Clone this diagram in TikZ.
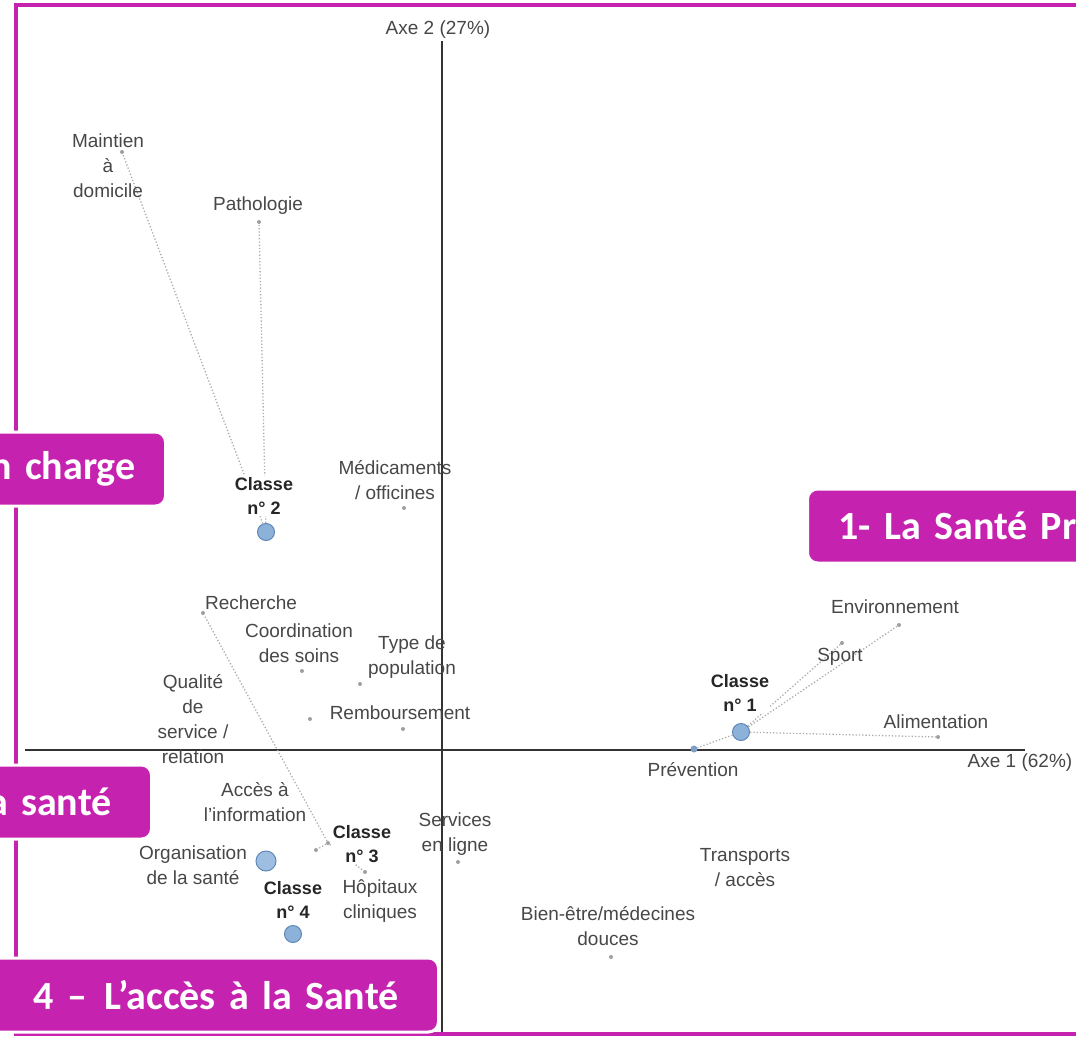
\documentclass[tikz,border=0pt]{standalone}
\usepackage{fontspec}
\setmainfont{Liberation Sans}
\newfontfamily\bannerfont{Carlito}[WordSpace=0.75]
\definecolor{cadre}{RGB}{198,34,176}
\definecolor{bleuclasse}{RGB}{140,178,218}
\definecolor{bordclasse}{RGB}{95,135,185}
\begin{document}
\begin{tikzpicture}[x=1pt,y=-1pt,
  lbl/.style={align=center,inner sep=1pt,text=black!72,font=\fontsize{19}{25}\selectfont},
  cls/.style={lbl,text=black!85,fill=white,font=\bfseries\fontsize{18}{24}\selectfont},
  pt/.style={circle,fill=gray!75,inner sep=0pt,minimum size=4pt},
  classe/.style={circle,draw=bordclasse,fill=bleuclasse,line width=1pt,inner sep=0pt,minimum size=17pt},
  lien/.style={draw,gray!65,dotted,line width=1.3pt},
  axe/.style={draw,black!80,line width=1.6pt},
  banner/.style={fill=cadre,draw=white,line width=3pt,rounded corners=10pt,text=white,
    font=\bannerfont\bfseries\fontsize{40}{42}\selectfont,minimum height=74pt,inner ysep=0pt}]
\useasboundingbox (0,0) rectangle (1076,1036);
\clip (0,0) rectangle (1076,1036);
\coordinate (yhaut) at (442,41);
\coordinate (ybas) at (442,1034);
\coordinate (xgauche) at (25,750);
\coordinate (xdroite) at (1025,750);
\path[axe] (yhaut) -- (ybas);
\path[axe] (xgauche) -- (xdroite);
\node[pt] (maintienp) at (122,152) {};
\node[pt] (pathop) at (259,222) {};
\node[pt] (medicp) at (404,508) {};
\node[pt] (recherchep) at (203,613) {};
\node[pt] (coordp) at (302,671) {};
\node[pt] (typep) at (360,684) {};
\node[pt] (qualitep) at (310,719) {};
\node[pt] (rembp) at (403,729) {};
\node[pt] (accesp) at (316,850) {};
\node[pt] (hopp) at (365,872) {};
\node[pt] (servp) at (458,862) {};
\node[pt] (bienp) at (611,957) {};
\node[pt] (envp) at (899,625) {};
\node[pt] (sportp) at (842,643) {};
\node[pt] (alimp) at (938,737) {};
\node[pt,fill=bordclasse!80,minimum size=7pt] (prevp) at (694,749) {};
\node[pt] (c3) at (328,843) {};
\node[classe] (c1) at (741,732) {};
\node[classe] (c2) at (266,532) {};
\node[classe] (c4) at (293,934) {};
\node[classe,fill=bleuclasse!85!white,minimum size=20pt] (orga) at (266,861) {};
\path[lien] (c2) -- (maintienp);
\path[lien] (c2) -- (pathop);
\path[lien] (c3) -- (recherchep);
\path[lien] (c3) -- (hopp);
\path[lien] (c3) -- (accesp);
\path[lien] (c1) -- (envp);
\path[lien] (c1) -- (sportp);
\path[lien] (c1) -- (alimp);
\path[lien] (c1) -- (prevp);
\node[lbl] (axe2) at (438,30) {Axe 2 (27\%)};
\node[lbl] (axe1) at (1020,763) {Axe 1 (62\%)};
\node[lbl] (maintien) at (108,166) {Maintien\\à\\domicile};
\node[lbl] (patho) at (258,206) {Pathologie};
\node[lbl] (medic) at (395,480) {Médicaments\\/ officines};
\node[cls] (lc2) at (264,496) {Classe\\n° 2};
\node[lbl] (recherche) at (251,603) {Recherche};
\node[lbl] (coord) at (299,643) {Coordination\\des soins};
\node[lbl] (type) at (412,657) {Type de\\population};
\node[lbl] (qualite) at (193,719) {Qualité\\de\\service /\\relation};
\node[lbl] (remb) at (400,713) {Remboursement};
\node[cls] (lc1) at (740,693) {Classe\\n° 1};
\node[lbl] (env) at (895,607) {Environnement};
\node[lbl] (sport) at (840,657) {Sport};
\node[lbl] (alim) at (936,722) {Alimentation};
\node[lbl] (prev) at (693,770) {Prévention};
\node[lbl] (acces) at (255,802) {Accès à\\l'information};
\node[lbl] (organis) at (193,865) {Organisation\\de la santé};
\node[cls] (lc3) at (362,844) {Classe\\n° 3};
\node[lbl] (hop) at (380,901) {Hôpitaux\\cliniques};
\node[cls] (lc4) at (293,900) {Classe\\n° 4};
\node[lbl] (serv) at (455,834) {Services\\en ligne};
\node[lbl] (transp) at (745,868) {Transports\\/ accès};
\node[lbl] (bien) at (608,926) {Bien-être/médecines\\douces};
\draw[cadre,line width=4pt] (16,5) rectangle (1110,1034);
\node[banner,anchor=east,text width=200pt,align=right,inner xsep=30pt] (priseencharge) at (167,469) {n charge};
\node[banner,anchor=east,text width=160pt,align=right,inner xsep=40pt] (santeb) at (153,802) {a santé};
\node[banner,anchor=west,text width=300pt,align=left,inner xsep=31pt] (preventive) at (806,526) {1- La Santé Pr};
\node[banner,anchor=east,text width=400pt,align=right,inner xsep=40pt] (acceslasante) at (440,995) {4 –\hspace{4pt} L’accès à la Santé};
\end{tikzpicture}
\end{document}
